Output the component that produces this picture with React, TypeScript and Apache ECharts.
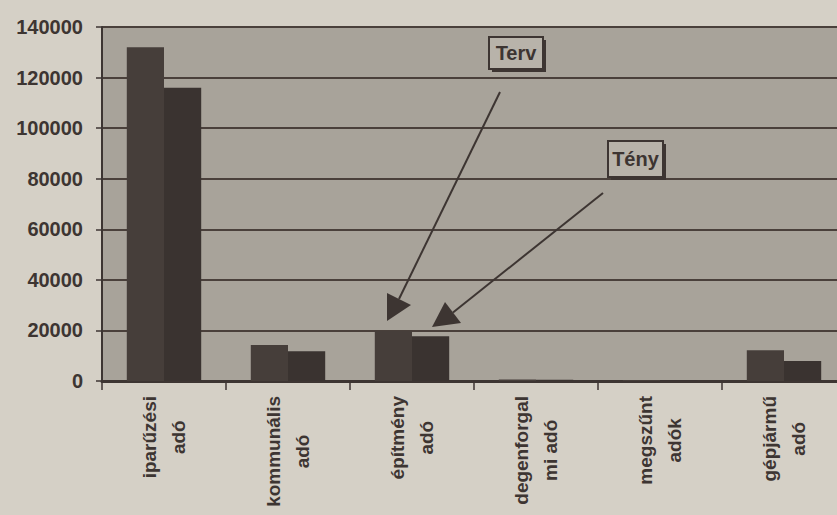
import React, { useEffect, useRef } from "react";
import * as echarts from "echarts";

const categories = [
  "iparűzési\nadó",
  "kommunális\nadó",
  "építmény\nadó",
  "degenforgal\nmi adó",
  "megszűnt\nadók",
  "gépjármű\nadó",
];
const tervValues = [132000, 14200, 20000, 600, 400, 12200];
const tenyValues = [116000, 11800, 17700, 500, 150, 7900];
const yTicks = { min: 0, max: 140000, interval: 20000 };

const INK = "#3d3532";
const PLOT_BG = "#a8a39a";
const PAGE_BG = "#d5d0c6";
const FONT = "'Liberation Sans', Arial, sans-serif";
const XFONT_SIZE = 19;
const XLABEL_GAP = 15;
const XLINE_HEIGHT = 29;

function measure(text: string): number {
  const c = document.createElement("canvas").getContext("2d")!;
  c.font = `bold ${XFONT_SIZE}px ${FONT}`;
  return c.measureText(text).width;
}

export default function App() {
  const ref = useRef<HTMLDivElement>(null);
  useEffect(() => {
    const chart = echarts.init(ref.current!, null, { renderer: "svg" });
    const box = (x: number, y: number, w: number, h: number, label: string) => ({
      type: "group",
      children: [
        { type: "rect", shape: { x: x + 3, y: y + 3, width: w, height: h }, style: { fill: INK } },
        { type: "rect", shape: { x, y, width: w, height: h }, style: { fill: "#b8b3aa", stroke: INK, lineWidth: 2 } },
        {
          type: "text",
          x: x + w / 2,
          y: y + h / 2,
          style: { text: label, fill: INK, font: `bold 20px ${FONT}`, align: "center", verticalAlign: "middle" },
        },
      ],
    });
    const arrow = (x1: number, y1: number, tip: number[], b1: number[], b2: number[]) => ({
      type: "group",
      children: [
        { type: "line", shape: { x1, y1, x2: (b1[0] + b2[0]) / 2, y2: (b1[1] + b2[1]) / 2 }, style: { stroke: INK, lineWidth: 2 } },
        { type: "polygon", shape: { points: [tip, b1, b2] }, style: { fill: INK } },
      ],
    });
    chart.setOption({
      animation: false,
      backgroundColor: PAGE_BG,
      grid: {
        left: 102,
        top: 27,
        bottom: 134,
        right: -9,
        show: true,
        backgroundColor: PLOT_BG,
        borderWidth: 0,
        outerBoundsMode: "none",
      },
      xAxis: {
        type: "category",
        data: categories,
        axisLine: { lineStyle: { color: INK, width: 3 } },
        axisTick: { show: true, length: 9, lineStyle: { color: INK, width: 1.5 } },
        axisLabel: { show: false },
      },
      yAxis: {
        type: "value",
        min: yTicks.min,
        max: yTicks.max,
        interval: yTicks.interval,
        axisLine: { show: true, lineStyle: { color: INK, width: 2 } },
        axisTick: { show: true, length: 6, lineStyle: { color: INK, width: 1.5 } },
        splitLine: { show: true, lineStyle: { color: "#4a403b", width: 2 } },
        axisLabel: {
          margin: 19,
          color: INK,
          fontSize: 20,
          fontWeight: "bold",
          fontFamily: FONT,
          formatter: (v: number) => String(v),
        },
      },
      series: [
        {
          name: "Terv",
          type: "bar",
          data: tervValues,
          barGap: "0%",
          barCategoryGap: "40%",
          itemStyle: { color: "#463e3a" },
        },
        {
          name: "Tény",
          type: "bar",
          data: tenyValues,
          itemStyle: { color: "#3a3330" },
        },
      ],
    });
    const baseY = chart.convertToPixel({ yAxisIndex: 0 }, 0) as number;
    const labelTexts: any[] = [];
    categories.forEach((cat, i) => {
      const cx = chart.convertToPixel({ xAxisIndex: 0 }, i) as number;
      const lines = cat.split("\n");
      const w = Math.max(...lines.map(measure));
      lines.forEach((line, j) => {
        labelTexts.push({
          type: "text",
          x: cx + (j - (lines.length - 1) / 2) * XLINE_HEIGHT,
          y: baseY + XLABEL_GAP + w / 2,
          rotation: Math.PI / 2,
          style: {
            text: line,
            fill: INK,
            font: `bold ${XFONT_SIZE}px ${FONT}`,
            align: "center",
            verticalAlign: "middle",
          },
        });
      });
    });
    chart.setOption({
      graphic: [
        ...labelTexts,
        arrow(500, 92, [387, 321], [387, 293], [411, 305]),
        arrow(603, 193, [432, 327], [445, 302], [461, 323]),
        box(489, 37, 54, 32, "Terv"),
        box(608, 141, 55, 36, "Tény"),
      ],
    });
    return () => chart.dispose();
  }, []);
  return (
    <div
      ref={ref}
      style={{ position: "absolute", left: 0, top: 0, width: 837, height: 515 }}
    />
  );
}
